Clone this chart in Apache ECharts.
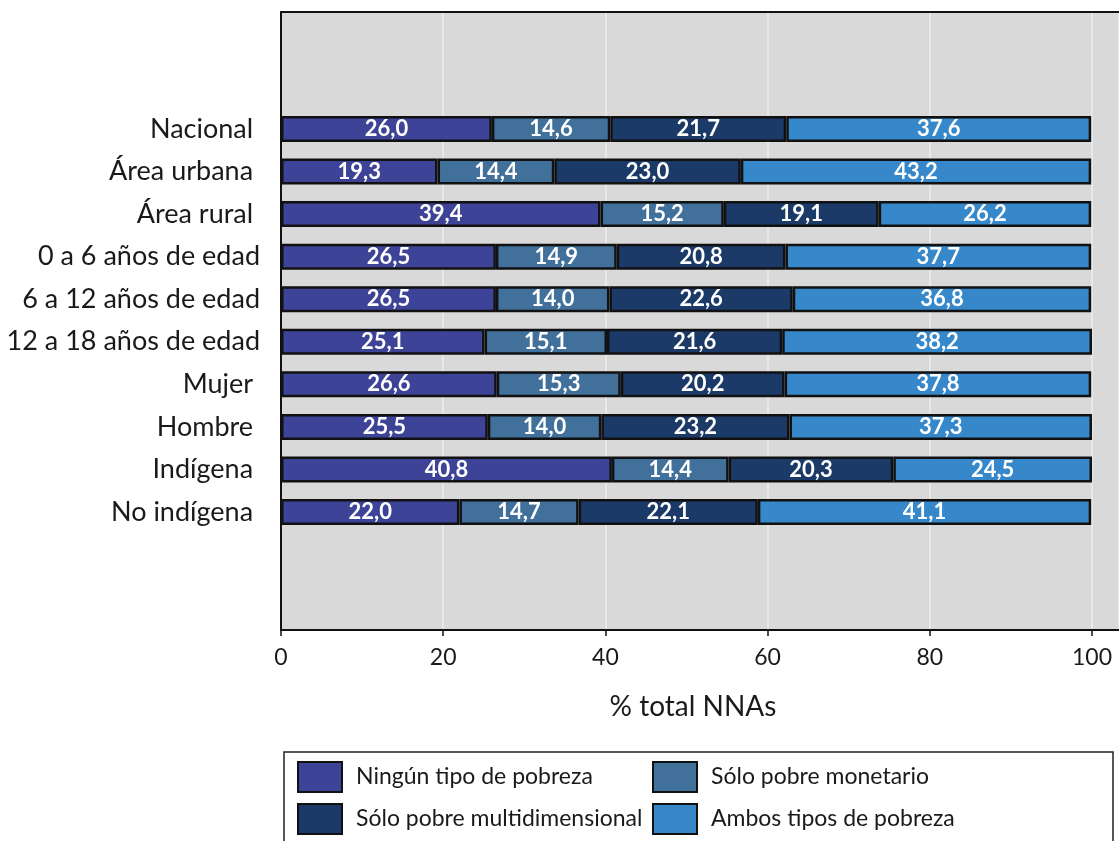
<!DOCTYPE html>
<html>
<head>
<meta charset="utf-8">
<script src="https://cdn.jsdelivr.net/npm/echarts@6/dist/echarts.min.js"></script>
<style>
  html, body { margin: 0; padding: 0; background: #ffffff; }
  #chart { width: 1119px; height: 841px; }
</style>
</head>
<body>
<div id="chart"></div>
<script>
// Categories (top to bottom)
const categories = [
  'Nacional ', 'Área urbana ', 'Área rural ', '0 a 6 años de edad',
  '6 a 12 años de edad', '12 a 18 años de edad', 'Mujer ', 'Hombre ',
  'Indígena ', 'No indígena '
];

// Series names
const seriesNames = [
  'Ningún tipo de pobreza', 'Sólo pobre monetario',
  'Sólo pobre multidimensional', 'Ambos tipos de pobreza'
];

// Shares (% of total NNAs) per category
const ningunTipo       = [26.0, 19.3, 39.4, 26.5, 26.5, 25.1, 26.6, 25.5, 40.8, 22.0];
const soloMonetario    = [14.6, 14.4, 15.2, 14.9, 14.0, 15.1, 15.3, 14.0, 14.4, 14.7];
const soloMultidim     = [21.7, 23.0, 19.1, 20.8, 22.6, 21.6, 20.2, 23.2, 20.3, 22.1];
const ambosTipos       = [37.6, 43.2, 26.2, 37.7, 36.8, 38.2, 37.8, 37.3, 24.5, 41.1];

// x-axis tick values
const xTicks = [0, 20, 40, 60, 80, 100];

const colors = ['#3d4396', '#41709b', '#1b3a67', '#3688cb'];
const FONT = 'Lato';
const TEXT = '#1a1a1a';

// Panel extends a little past 100 on the right edge
const X_MAX = 103.33;

const seriesData = [ningunTipo, soloMonetario, soloMultidim, ambosTipos];

// Legend laid out as a 2x2 table: one legend block per entry
const legendSlots = [
  { left: 297, top: 761 }, { left: 652, top: 761 },
  { left: 297, top: 803 }, { left: 652, top: 803 }
];
const legendOrder = [0, 1, 2, 3];

const chart = echarts.init(document.getElementById('chart'), null, { renderer: 'canvas' });

chart.setOption({
  animation: false,
  textStyle: { fontFamily: FONT },
  grid: [
    { // panel with background, gridlines and x axis
      left: 281, right: 0, top: 12, bottom: 211,
      show: true, backgroundColor: '#d9d9d9', borderWidth: 0
    },
    { // bars
      left: 281, right: 0, top: 107.7, bottom: 307.7
    }
  ],
  xAxis: [
    {
      gridIndex: 0, type: 'value', min: 0, max: X_MAX, interval: 20,
      axisLine: { show: true, lineStyle: { color: '#111', width: 2 } },
      axisTick: { show: true, length: 6, lineStyle: { color: '#111', width: 1.5 } },
      axisLabel: {
        showMaxLabel: false, color: TEXT, fontSize: 23, fontFamily: FONT, margin: 16,
        formatter: v => (xTicks.indexOf(v) >= 0 ? String(v) : '')
      },
      splitLine: { show: true, lineStyle: { color: '#ededed', width: 1.5 } },
      name: '% total NNAs', nameLocation: 'middle', nameGap: 63,
      nameTextStyle: { color: TEXT, fontSize: 28, fontFamily: FONT, padding: [0, 14, 0, 0] }
    },
    { // top frame line
      gridIndex: 0, type: 'value', min: 0, max: X_MAX, position: 'top',
      axisLine: { show: true, lineStyle: { color: '#111', width: 2 } },
      axisTick: { show: false }, axisLabel: { show: false }, splitLine: { show: false }
    },
    {
      gridIndex: 1, type: 'value', min: 0, max: X_MAX, show: false
    }
  ],
  yAxis: [
    {
      gridIndex: 0, type: 'value', min: 0, max: 1,
      axisLine: { show: true, lineStyle: { color: '#111', width: 2 } },
      axisTick: { show: false }, axisLabel: { show: false }, splitLine: { show: false }
    },
    {
      gridIndex: 1, type: 'category', data: categories, inverse: true,
      axisLine: { show: false }, axisTick: { show: false },
      axisLabel: { color: TEXT, fontSize: 27, fontFamily: FONT, margin: 21 }
    }
  ],
  legend: legendOrder.map((si, k) => ({
    data: [seriesNames[si]],
    left: legendSlots[k].left, top: legendSlots[k].top,
    padding: 0,
    icon: 'rect',
    itemWidth: 44, itemHeight: 30,
    textStyle: { color: TEXT, fontSize: 23, fontFamily: FONT, padding: [0, 0, 0, 9] },
    itemStyle: { borderColor: '#111', borderWidth: 2 }
  })),
  graphic: [
    { // legend frame
      type: 'rect', z: -1,
      shape: { x: 284, y: 752, width: 829, height: 100 },
      style: { fill: '#ffffff', stroke: '#222', lineWidth: 1.5 }
    }
  ],
  series: seriesNames.map((name, i) => ({
    name: name,
    type: 'bar',
    stack: 'total',
    xAxisIndex: 2,
    yAxisIndex: 1,
    barWidth: 26,
    data: seriesData[i],
    itemStyle: { color: colors[i], borderColor: '#111', borderWidth: 2.5 },
    label: {
      show: true, position: 'inside', color: '#ffffff',
      fontSize: 22, fontWeight: 'bold', fontFamily: FONT,
      formatter: p => p.value.toFixed(1).replace('.', ',')
    }
  }))
});
</script>
</body>
</html>
